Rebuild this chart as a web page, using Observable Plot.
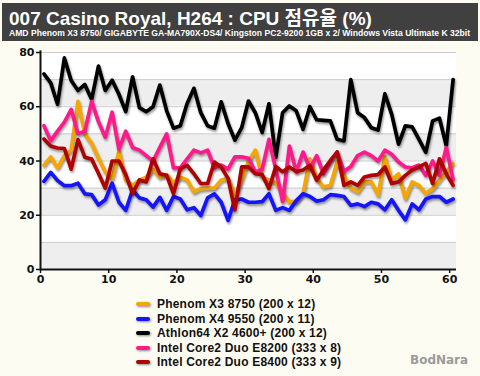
<!DOCTYPE html>
<html><head><meta charset="utf-8">
<script src="https://cdn.jsdelivr.net/npm/d3@7"></script>
<script src="https://cdn.jsdelivr.net/npm/@observablehq/plot@0.6"></script>
<style>
body{margin:0;background:#fdfcf3;}
#wrap{position:relative;width:480px;height:376px;overflow:hidden;background:#fdfcf3;font-family:"Liberation Sans",Arial,"Noto Sans CJK KR",sans-serif;}
#head{position:absolute;left:2px;top:3px;width:476px;height:38px;background:#404040;}
#title{position:absolute;left:9px;top:9px;height:19px;color:#fff;font-weight:bold;font-size:19px;line-height:19px;white-space:nowrap;}
#sub{position:absolute;left:9px;top:29px;color:#fff;font-weight:bold;font-size:8.6px;line-height:8px;white-space:nowrap;}
#chart{position:absolute;left:0;top:42px;}
#legend{position:absolute;left:136px;top:297px;font-weight:bold;font-size:12px;letter-spacing:0.2px;color:#111;}
.row{height:14.5px;line-height:14.5px;display:flex;align-items:center;white-space:nowrap;}
.sw{display:inline-block;width:14px;height:4px;border-radius:2px;margin-right:7px;filter:drop-shadow(1px 1.5px 1px rgba(0,0,0,0.45));}
#mark{position:absolute;left:410px;top:353px;color:#9a9a9a;font-family:"DejaVu Sans",sans-serif;font-weight:bold;font-size:12px;}
</style></head>
<body>
<div id="wrap">
  <div id="head"></div>
  <div id="title">007 Casino Royal, H264 : CPU 점유율 (%)</div>
  <div id="sub">AMD Phenom X3 8750/ GIGABYTE GA-MA790X-DS4/ Kingston PC2-9200 1GB x 2/ Windows Vista Ultimate K 32bit</div>
  <div id="chart"></div>
  <div id="legend"></div>
  <div id="mark">BodNara</div>
</div>
<script>
const seriesNames = ["Phenom X3 8750 (200 x 12)", "Phenom X4 9550 (200 x 11)", "Athlon64 X2 4600+ (200 x 12)", "Intel Core2 Duo E8200 (333 x 8)", "Intel Core2 Duo E8400 (333 x 9)"];
const seriesColors = ["#f7a600", "#1414ff", "#000000", "#ff1a8c", "#b00000"];

const phenomX3 = [38.5, 41.5, 37.5, 42, 44, 62, 50, 46.5, 41, 36, 33.5, 43.5,
  33, 31, 33, 34, 37, 34, 35, 32, 34, 33, 28.6, 29.8,
  30, 30, 33, 33.6, 27.4, 33, 40, 44, 34, 33, 32, 28,
  25, 25, 28, 40.8, 33.6, 30.4, 31, 39.6, 34.7, 30, 28.6, 32.3,
  32.3, 27.4, 41.5, 33, 35.3, 26.2, 32.3, 31, 28, 29.8, 32.9, 36, 39.1];
const phenomX4 = [32.5, 35.8, 32.8, 30.9, 30.9, 31.8, 27.9, 27.6, 23.8, 25.7,
  31.8, 24.8, 21.8, 29.4, 26.4, 25.7, 23, 26.6, 21.8, 26.9,
  26, 22, 22.8, 19.9, 26.4, 27.9, 24.8, 18.1, 25.7, 26,
  24.8, 24.8, 25, 27.9, 21.8, 22.8, 21.8, 25.4, 27.9, 26.9,
  25.2, 25.7, 27.6, 27.3, 26.9, 23.6, 24.2, 23.2, 24.8, 24.2,
  22, 25.7, 21.8, 18.3, 24.2, 22, 26, 26.9, 26.9, 24.8, 26];
const athlon = [72.1, 68.8, 60.9, 78, 69.7, 66, 68.2, 62.7, 75, 66,
  69.8, 64.6, 58.2, 71, 59.7, 58.2, 60, 68, 58.5, 52.1,
  53, 61.2, 66.8, 57.8, 53, 52.1, 61.8, 53.8, 47.7, 52.3,
  62.1, 57.8, 50.5, 61.1, 41.3, 57.8, 60.3, 58.5, 51.7, 60,
  55.2, 55, 54.8, 48, 47.4, 70, 57.8, 56, 52.3, 51.4,
  64.8, 57.2, 46.2, 53, 52.6, 48, 43.2, 54.8, 55.8, 45.6, 70];
const e8200 = [53, 47.5, 51, 54.3, 59, 50, 51, 62, 54.5, 48.8, 58, 44.4,
  51, 45, 44, 42, 40, 45, 50, 37.5, 37.5, 40.8, 44, 43,
  44, 37.5, 38.5, 37, 41.5, 41.5, 41, 36, 37, 48, 37, 25,
  45.5, 36.1, 43.3, 37.2, 42, 35.3, 39.6, 43.3, 36.1, 38, 42, 43.3,
  42, 40, 44, 42.5, 39.6, 37.8, 37.5, 38.5, 34.7, 40, 34.7, 45, 33];
const e8400 = [48.1, 45.5, 44.8, 44.6, 37, 47.9, 41.4, 40.7, 35.5, 30, 40, 40,
  35, 28, 33, 32.3, 40.8, 35.3, 34.7, 28, 37.2, 38.4, 35.3, 31.7,
  31.7, 39.6, 37.8, 33.6, 22, 37.8, 37.8, 35.3, 35, 29.8, 38, 36,
  37.8, 36.1, 36.7, 38.4, 32.9, 36.7, 40.2, 43.3, 31, 32.3, 31, 34.1,
  34.7, 35, 37.8, 31.7, 32.3, 34.7, 36.7, 37.8, 39.1, 31.7, 40.8, 35.3, 31];
const seriesValues = [phenomX3, phenomX4, athlon, e8200, e8400];

const xTicks = [0, 10, 20, 30, 40, 50, 60];
const yTicks = [0, 20, 40, 60, 80];
const gridLines = [10, 20, 30, 40, 50, 60, 70, 80];
const grayBands = [0, 20, 40, 60];
const xDomain = [0, 61];
const yDomain = [0, 80];

const rows = [];
seriesValues.forEach((vals, s) => vals.forEach((v, i) => rows.push({t: i + 0.5, v, s: seriesNames[s]})));

const lineMarks = seriesNames.map((name, s) =>
  Plot.line(rows.filter(r => r.s === name), {x: "t", y: "v", stroke: seriesColors[s], strokeWidth: 3.7, strokeLinejoin: "round", strokeLinecap: "round"}));

const plot = Plot.plot({
  width: 480, height: 253,
  marginLeft: 40, marginRight: 24, marginTop: 10, marginBottom: 26,
  style: {background: "#ffffff00", fontFamily: "DejaVu Sans, sans-serif", fontSize: "11px", fontWeight: "bold", color: "#111"},
  x: {domain: xDomain, axis: null, label: null},
  y: {domain: yDomain, axis: null, label: null},
  marks: [
    Plot.rect([yDomain], {x1: () => xDomain[0], x2: () => xDomain[1], y1: d => d[0], y2: d => d[1], fill: "#ffffff"}),
    Plot.rect(grayBands, {x1: () => xDomain[0], x2: () => xDomain[1], y1: d => d, y2: d => d + 10, fill: "#eeeeee"}),
    Plot.ruleY(gridLines, {stroke: "#cccccc", strokeWidth: 1}),
    ...lineMarks,
    Plot.ruleX([0], {stroke: "#111", strokeWidth: 2, y1: () => yDomain[0], y2: () => yDomain[1] + 0.6}),
    Plot.ruleY([0], {stroke: "#111", strokeWidth: 2}),
    Plot.axisY({ticks: yTicks, tickSize: 4, tickPadding: 2, anchor: "left", label: null, stroke: "#111", strokeWidth: 1.5}),
    Plot.axisX({ticks: xTicks, tickSize: 4, tickPadding: 2, anchor: "bottom", label: null, stroke: "#111", strokeWidth: 1.5})
  ]
});
document.getElementById("chart").appendChild(plot);
plot.querySelectorAll('g[aria-label="line"]').forEach(g => g.style.filter = "drop-shadow(1.5px 2px 1.2px rgba(0,0,0,0.4))");

const legend = document.getElementById("legend");
seriesNames.forEach((name, s) => {
  const row = document.createElement("div");
  row.className = "row";
  row.innerHTML = `<span class="sw" style="background:${seriesColors[s]}"></span><span>${name}</span>`;
  legend.appendChild(row);
});
</script>
</body></html>
